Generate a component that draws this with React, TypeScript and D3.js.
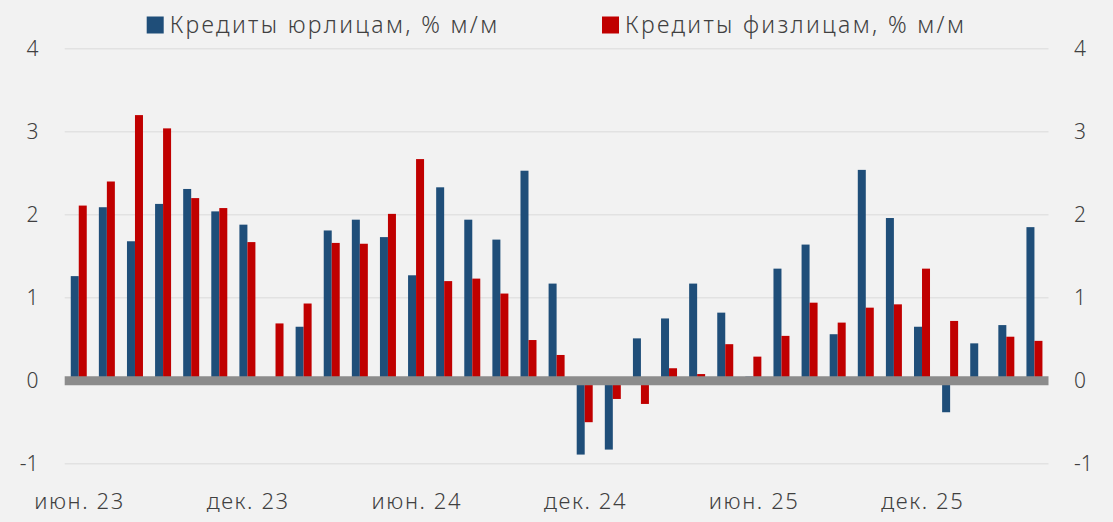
import React, { useEffect, useRef } from "react";
import * as d3 from "d3";

const months = [
  "июн. 23","июл. 23","авг. 23","сен. 23","окт. 23","ноя. 23","дек. 23",
  "янв. 24","фев. 24","мар. 24","апр. 24","май. 24","июн. 24","июл. 24",
  "авг. 24","сен. 24","окт. 24","ноя. 24","дек. 24","янв. 25","фев. 25",
  "мар. 25","апр. 25","май. 25","июн. 25","июл. 25","авг. 25","сен. 25",
  "окт. 25","ноя. 25","дек. 25","янв. 26","фев. 26","мар. 26","апр. 26",
];

const corporate: (number | null)[] = [
  1.26, 2.09, 1.68, 2.13, 2.31, 2.04, 1.88,
  null, 0.65, 1.81, 1.94, 1.73, 1.27, 2.33,
  1.94, 1.70, 2.53, 1.17, -0.89, -0.83, 0.51,
  0.75, 1.17, 0.82, 0.05, 1.35, 1.64, 0.56,
  2.54, 1.96, 0.65, -0.38, 0.45, 0.67, 1.85,
];

const retail: (number | null)[] = [
  2.11, 2.40, 3.20, 3.04, 2.20, 2.08, 1.67,
  0.69, 0.93, 1.66, 1.65, 2.01, 2.67, 1.20,
  1.23, 1.05, 0.49, 0.31, -0.50, -0.22, -0.28,
  0.15, 0.08, 0.44, 0.29, 0.54, 0.94, 0.70,
  0.88, 0.92, 1.35, 0.72, null, 0.53, 0.48,
];

const yTicks = [-1, 0, 1, 2, 3, 4];
const xTickLabels = ["июн. 23", "дек. 23", "июн. 24", "дек. 24", "июн. 25", "дек. 25"];
const seriesNames = ["Кредиты юрлицам, % м/м", "Кредиты физлицам, % м/м"];
const seriesColors = ["#1F4E79", "#C00000"];

const W = 1113;
const H = 522;
const FONT = "'Noto Sans', sans-serif";
const TEXT = "#404040";

export default function App() {
  const ref = useRef<SVGSVGElement | null>(null);

  useEffect(() => {
    document.body.style.margin = "0";
    const svg = d3.select(ref.current);
    svg.selectAll("*").remove();

    svg.append("rect").attr("width", W).attr("height", H).attr("fill", "#F2F2F2");

    const x = d3.scaleBand<string>().domain(months).range([64.7, 1048.5]).padding(0);
    const y = d3.scaleLinear().domain([-1, 4]).range([463.7, 48.7]);
    const bw = 8;

    svg.append("g")
      .selectAll("line")
      .data(yTicks.filter((t) => t !== 0))
      .join("line")
      .attr("x1", 64.7)
      .attr("x2", 1048.5)
      .attr("y1", (d) => y(d))
      .attr("y2", (d) => y(d))
      .attr("stroke", "#E2E2E2")
      .attr("stroke-width", 1.5);

    const series = [corporate, retail];
    series.forEach((vals, si) => {
      svg.append("g")
        .selectAll("rect")
        .data(months.map((m, i) => ({ m, v: vals[i] })).filter((d) => d.v !== null))
        .join("rect")
        .attr("x", (d) => (x(d.m) as number) + x.bandwidth() / 2 - bw + si * bw)
        .attr("width", bw)
        .attr("y", (d) => y(Math.max(0, d.v as number)))
        .attr("height", (d) => Math.abs(y(d.v as number) - y(0)))
        .attr("fill", seriesColors[si]);
    });

    svg.append("line")
      .attr("x1", 64.7)
      .attr("x2", 1048.5)
      .attr("y1", y(0))
      .attr("y2", y(0))
      .attr("stroke", "#8C8C8C")
      .attr("stroke-width", 9);

    const axisText = (xPos: number, anchor: string) =>
      svg.append("g")
        .selectAll("text")
        .data(yTicks)
        .join("text")
        .attr("x", xPos)
        .attr("y", (d) => y(d))
        .attr("dy", "0.36em")
        .attr("text-anchor", anchor)
        .attr("font-family", FONT)
        .attr("font-weight", 300)
        .attr("font-size", 21)
        .attr("fill", TEXT)
        .text((d) => String(d));
    axisText(38.5, "end");
    axisText(1074, "start");

    svg.append("g")
      .selectAll("text")
      .data(xTickLabels)
      .join("text")
      .attr("x", (d) => (x(d) as number) + x.bandwidth() / 2 + 0.8)
      .attr("y", 509)
      .attr("text-anchor", "middle")
      .attr("font-family", FONT)
      .attr("font-weight", 300)
      .attr("font-size", 22)
      .attr("letter-spacing", 1.6)
      .attr("fill", TEXT)
      .text((d) => d);

    const legendX = [146.7, 602];
    seriesNames.forEach((name, i) => {
      svg.append("rect")
        .attr("x", legendX[i])
        .attr("y", 16.5)
        .attr("width", 17)
        .attr("height", 17)
        .attr("fill", seriesColors[i]);
      svg.append("text")
        .attr("x", legendX[i] + 23)
        .attr("y", 33)
        .attr("font-family", FONT)
        .attr("font-weight", 300)
        .attr("font-size", 23)
        .attr("letter-spacing", 2.35)
        .attr("fill", TEXT)
        .text(name);
    });
  }, []);

  return <svg ref={ref} width={W} height={H} style={{ display: "block" }} />;
}
